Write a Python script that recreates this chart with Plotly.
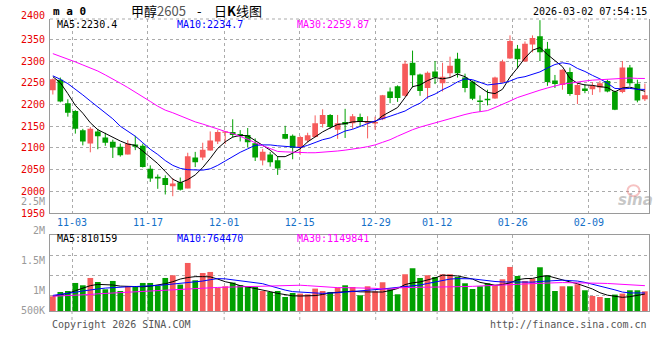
import plotly.graph_objects as go

# ---------------- data ----------------
opens = [2233, 2257, 2203, 2185, 2141, 2110, 2138, 2124, 2114, 2103,
         2085, 2108, 2105, 2052, 2034, 2031, 2012, 2021, 2007, 2078,
         2078, 2094, 2115, 2135, 2137, 2132, 2130, 2111, 2071, 2085,
         2072, 2132, 2128, 2100, 2117, 2125, 2155, 2176, 2142, 2160,
         2157, 2171, 2157, 2156, 2166, 2230, 2242, 2220, 2296, 2269,
         2238, 2276, 2249, 2272, 2305, 2262, 2253, 2209, 2213, 2214,
         2251, 2306, 2328, 2299, 2338, 2357, 2328, 2255, 2245, 2275,
         2222, 2237, 2235, 2239, 2254, 2230, 2229, 2285, 2248, 2212]
highs = [2260, 2262, 2212, 2187, 2144, 2148, 2144, 2135, 2119, 2110,
         2118, 2128, 2110, 2060, 2039, 2037, 2031, 2032, 2089, 2091,
         2112, 2138, 2141, 2139, 2166, 2141, 2146, 2122, 2098, 2091,
         2081, 2151, 2131, 2128, 2135, 2175, 2189, 2178, 2176, 2190,
         2178, 2179, 2173, 2172, 2222, 2239, 2244, 2301, 2324, 2271,
         2276, 2300, 2296, 2310, 2319, 2271, 2255, 2221, 2234, 2264,
         2303, 2359, 2337, 2345, 2359, 2394, 2344, 2268, 2281, 2285,
         2250, 2247, 2251, 2254, 2257, 2232, 2300, 2291, 2257, 2248]
lows = [2223, 2205, 2172, 2133, 2106, 2090, 2097, 2105, 2077, 2080,
        2085, 2095, 2055, 2022, 2006, 1993, 1989, 2002, 2007, 2056,
        2072, 2094, 2109, 2109, 2124, 2115, 2101, 2070, 2060, 2057,
        2038, 2120, 2074, 2084, 2112, 2124, 2147, 2144, 2121, 2123,
        2144, 2150, 2122, 2142, 2164, 2203, 2206, 2218, 2239, 2220,
        2213, 2247, 2230, 2262, 2262, 2228, 2210, 2183, 2198, 2213,
        2249, 2305, 2283, 2298, 2320, 2300, 2243, 2238, 2234, 2220,
        2201, 2226, 2222, 2228, 2228, 2187, 2226, 2243, 2205, 2208]
closes = [2258, 2207, 2181, 2144, 2115, 2144, 2127, 2112, 2101, 2083,
          2110, 2103, 2056, 2030, 2030, 2015, 2018, 2004, 2081, 2067,
          2096, 2117, 2137, 2138, 2130, 2127, 2113, 2078, 2091, 2067,
          2053, 2121, 2100, 2125, 2129, 2157, 2176, 2148, 2157, 2154,
          2173, 2161, 2161, 2160, 2221, 2215, 2215, 2294, 2267, 2231,
          2273, 2262, 2264, 2289, 2272, 2238, 2213, 2206, 2210, 2262,
          2299, 2346, 2304, 2340, 2353, 2320, 2252, 2247, 2280, 2224,
          2245, 2231, 2243, 2249, 2230, 2188, 2285, 2249, 2209, 2221]

ma5 = [2264, 2250, 2225, 2198, 2180, 2158, 2142, 2133, 2124, 2116,
       2109, 2106, 2093, 2078, 2064, 2046, 2028, 2020, 2027, 2038,
       2055, 2076, 2099, 2114, 2125, 2129, 2128, 2117, 2106, 2095,
       2080, 2080, 2088, 2098, 2114, 2126, 2137, 2146, 2154, 2156,
       2160, 2161, 2161, 2160, 2174, 2183, 2193, 2216, 2241, 2245,
       2255, 2262, 2259, 2262, 2270, 2264, 2253, 2240, 2228, 2225,
       2235, 2263, 2284, 2307, 2325, 2331, 2315, 2301, 2287, 2260,
       2249, 2245, 2244, 2241, 2239, 2229, 2238, 2240, 2235, 2230.4]
ma10 = [2266, 2258, 2248, 2236, 2222, 2208, 2195, 2181, 2167, 2150,
        2139, 2127, 2112, 2097, 2085, 2071, 2060, 2053, 2050, 2049,
        2049, 2052, 2060, 2070, 2080, 2090, 2098, 2106, 2107, 2107,
        2105, 2104, 2102, 2101, 2106, 2113, 2119, 2123, 2131, 2139,
        2143, 2150, 2156, 2162, 2167, 2173, 2179, 2185, 2195, 2203,
        2217, 2224, 2234, 2242, 2252, 2259, 2257, 2251, 2245, 2247,
        2249, 2254, 2261, 2264, 2270, 2275, 2284, 2292, 2296, 2293,
        2283, 2276, 2267, 2259, 2249, 2237, 2236, 2237, 2235, 2234.7]
ma30 = [2317, 2311, 2305, 2298, 2291, 2284, 2277, 2268, 2259, 2249,
        2239, 2229, 2218, 2207, 2196, 2187, 2181, 2174, 2167, 2160,
        2155, 2149, 2143, 2138, 2133, 2127, 2120, 2112, 2105, 2098,
        2092, 2091, 2090, 2089, 2089, 2089, 2090, 2091, 2093, 2095,
        2097, 2100, 2103, 2107, 2113, 2119, 2127, 2135, 2142, 2148,
        2153, 2157, 2162, 2167, 2172, 2177, 2181, 2184, 2186, 2193,
        2200, 2208, 2216, 2222, 2228, 2233, 2238, 2243, 2247, 2249,
        2252, 2254, 2256, 2257, 2258, 2259, 2260, 2261, 2260, 2259.87]

volumes = [668000, 864000, 909000, 1273000, 1168000, 1500000, 1318000, 986000, 1364000, 909000,
           1136000, 1123000, 1273000, 1273000, 1136000, 1500000, 1623000, 1200000, 2182000, 1395000,
           1727000, 1773000, 1045000, 1123000, 1291000, 1168000, 1136000, 1091000, 909000, 864000,
           909000, 636000, 818000, 791000, 759000, 1018000, 909000, 864000, 1064000, 1168000,
           1091000, 714000, 1123000, 895000, 1305000, 1018000, 759000, 1668000, 1941000, 1500000,
           1623000, 1545000, 1668000, 1668000, 1545000, 1259000, 1000000, 1123000, 1259000, 1168000,
           1441000, 2000000, 1591000, 1364000, 1473000, 1986000, 1623000, 909000, 1123000, 1123000,
           1214000, 941000, 682000, 636000, 591000, 745000, 791000, 941000, 941000, 895000]
vol_ma5 = [670000, 720000, 800000, 920000, 1050000, 1150000, 1210000, 1210000, 1180000, 1130000,
           1110000, 1090000, 1100000, 1130000, 1180000, 1240000, 1330000, 1450000, 1520000, 1560000,
           1560000, 1550000, 1450000, 1330000, 1260000, 1150000, 1090000, 1030000, 960000, 880000,
           800000, 740000, 690000, 680000, 680000, 700000, 750000, 820000, 850000, 880000,
           900000, 870000, 860000, 860000, 860000, 930000, 1020000, 1200000, 1280000, 1320000,
           1400000, 1500000, 1630000, 1620000, 1590000, 1520000, 1450000, 1300000, 1220000, 1170000,
           1200000, 1280000, 1420000, 1470000, 1480000, 1560000, 1600000, 1500000, 1400000, 1320000,
           1240000, 1120000, 1000000, 830000, 720000, 670000, 620000, 650000, 720000, 770000]
vol_ma10 = [710000, 750000, 790000, 850000, 910000, 970000, 1000000, 1040000, 1070000, 1090000,
            1100000, 1110000, 1120000, 1140000, 1160000, 1190000, 1220000, 1250000, 1280000, 1310000,
            1360000, 1420000, 1470000, 1460000, 1420000, 1390000, 1350000, 1300000, 1240000, 1140000,
            1030000, 950000, 880000, 850000, 830000, 820000, 800000, 800000, 830000, 860000,
            880000, 910000, 940000, 970000, 1000000, 1040000, 1080000, 1110000, 1130000, 1180000,
            1250000, 1310000, 1380000, 1450000, 1470000, 1470000, 1460000, 1420000, 1370000, 1340000,
            1320000, 1320000, 1310000, 1290000, 1310000, 1340000, 1370000, 1390000, 1400000, 1380000,
            1360000, 1300000, 1220000, 1120000, 1040000, 960000, 860000, 820000, 820000, 820000]
vol_ma30 = [670000, 680000, 700000, 710000, 730000, 750000, 780000, 800000, 820000, 840000,
            860000, 880000, 900000, 920000, 940000, 960000, 980000, 1000000, 1020000, 1040000,
            1050000, 1060000, 1070000, 1080000, 1090000, 1100000, 1110000, 1120000, 1130000, 1140000,
            1150000, 1160000, 1170000, 1170000, 1150000, 1130000, 1100000, 1060000, 1060000, 1060000,
            1060000, 1060000, 1050000, 1030000, 1000000, 990000, 1050000, 1070000, 1080000, 1080000,
            1080000, 1080000, 1090000, 1090000, 1100000, 1110000, 1120000, 1130000, 1150000, 1160000,
            1180000, 1200000, 1210000, 1230000, 1250000, 1270000, 1280000, 1280000, 1290000, 1290000,
            1290000, 1280000, 1270000, 1260000, 1250000, 1230000, 1210000, 1190000, 1170000, 1150000]

tick_labels = ["11-03", "11-17", "12-01", "12-15", "12-29", "01-12", "01-26", "02-09"]
price_ticks = [1950, 2000, 2050, 2100, 2150, 2200, 2250, 2300, 2350]
vol_axis_labels = ["2.5M", "2M", "1.5M", "1M", "500K"]
header_ma = ["MA5:2230.4", "MA10:2234.7", "MA30:2259.87"]
header_vol_ma = ["MA5:810159", "MA10:764470", "MA30:1149841"]

# ---------------- styling / layout ----------------
PL, PR, PT, PB = 50, 649.5, 19, 310.7


def fx(x):
    return (x - PL) / (PR - PL)


def fy(y):
    return (PB - y) / (PB - PT)


RED = "#f65b5b"
GREEN = "#00a000"
GRID = "#ababab"
FRAME = "#9a9a9a"
MONO = "DejaVu Sans Mono"
LBL_RED = "#e80000"
LBL_BLUE = "#1470c8"
MA_COLORS = ["#000000", "#0000ff", "#ff00ff"]

tick_pos = [2.56, 12.69, 22.86, 32.95, 43.08, 51.28, 61.36, 71.53]
XR = [-0.38, 79.55]

n = len(closes)
xs = list(range(n))
colors = [RED if c >= o else GREEN for o, c in zip(opens, closes)]

fig = go.Figure()

# wicks
for col in (RED, GREEN):
    wx, wy = [], []
    for i in range(n):
        if colors[i] == col:
            wx += [i, i, None]
            wy += [lows[i], highs[i], None]
    fig.add_trace(go.Scatter(x=wx, y=wy, mode="lines", line=dict(color=col, width=1),
                             xaxis="x", yaxis="y", hoverinfo="skip"))

# bodies
fig.add_trace(go.Bar(x=xs, y=[max(abs(c - o), 2.4) for o, c in zip(opens, closes)],
                     base=[min(o, c) for o, c in zip(opens, closes)], width=0.76,
                     marker=dict(color=colors, line=dict(width=0)), xaxis="x", yaxis="y"))

for arr, col in zip([ma5, ma10, ma30], MA_COLORS):
    fig.add_trace(go.Scatter(x=xs, y=arr, mode="lines", line=dict(color=col, width=1),
                             xaxis="x", yaxis="y"))

# volume
fig.add_trace(go.Bar(x=xs, y=volumes, width=0.76, marker=dict(color=colors, line=dict(width=0)),
                     xaxis="x2", yaxis="y2"))
for arr, col in zip([vol_ma5, vol_ma10, vol_ma30], MA_COLORS):
    fig.add_trace(go.Scatter(x=xs, y=arr, mode="lines", line=dict(color=col, width=1),
                             xaxis="x2", yaxis="y2"))

VOL_TOP = (PB - 234.3) / 22 * 1e6
vol_grid = [(PB - y) / 22 * 1e6 for y in (295.7, 275.7, 255.7)]

fig.update_layout(
    width=660, height=360, autosize=False,
    margin=dict(l=PL, r=660 - PR, t=PT, b=360 - PB, pad=0),
    paper_bgcolor="white", plot_bgcolor="white",
    showlegend=False, hovermode=False, barmode="overlay",
    xaxis=dict(domain=[0, 1], range=XR, anchor="y", tickmode="array", tickvals=tick_pos,
               ticktext=tick_labels, tickfont=dict(family=MONO, size=10, color=LBL_BLUE),
               ticks="", showgrid=True, gridcolor=GRID, griddash="dot", gridwidth=1,
               showline=True, linecolor=FRAME, linewidth=1, zeroline=False),
    yaxis=dict(domain=[fy(213), 1], range=[1949.9, 2396.7], anchor="x", tickmode="array",
               tickvals=price_ticks, tickfont=dict(family=MONO, size=10, color=LBL_RED),
               ticks="", ticklabelstandoff=2, showgrid=True, gridcolor=GRID, griddash="dot",
               showline=True, mirror=True, linecolor=FRAME, linewidth=1, zeroline=False),
    xaxis2=dict(domain=[0, 1], range=XR, anchor="y2", tickmode="array", tickvals=tick_pos,
                showticklabels=False, ticks="", showgrid=True, gridcolor=GRID, griddash="dot",
                showline=True, mirror=True, linecolor=FRAME, linewidth=1, zeroline=False),
    yaxis2=dict(domain=[0, fy(234.3)], range=[0, VOL_TOP], anchor="x2", tickmode="array",
                tickvals=vol_grid, showticklabels=False, ticks="", showgrid=True, gridcolor=GRID,
                griddash="dot", showline=True, mirror=True, linecolor=FRAME, linewidth=1,
                zeroline=False),
)

shapes = [
    dict(type="line", xref="paper", yref="paper", x0=0, x1=1, y0=1, y1=1,
         line=dict(color=GRID, width=1, dash="dot")),
]
for t in tick_pos:
    shapes.append(dict(type="line", xref="x2", yref="paper", x0=t, x1=t, y0=0, y1=fy(321),
                       line=dict(color=GRID, width=1, dash="dot")))
shapes.append(dict(type="circle", xref="paper", yref="paper", x0=fx(628), x1=fx(640),
                   y0=fy(196), y1=fy(185), line=dict(color="rgba(235,120,120,0.45)", width=2)))
fig.update_layout(shapes=shapes)

ann = []


def add(text, x, y, xanchor="left", color="#000", size=10, family=MONO, **kw):
    ann.append(dict(text=text, x=fx(x), y=fy(y), xref="paper", yref="paper",
                    xanchor=xanchor, yanchor="middle", showarrow=False,
                    font=dict(family=family, size=size, color=color), **kw))


add("<b>m a 0</b>", 51, 12, size=11)
CJK = "Noto Sans CJK SC"
add("甲醇<span style='color:#555'>2605</span>", 188, 11, xanchor="right", size=13, family=CJK)
add("-", 200, 11, xanchor="center", size=13, family=CJK)
add("日<b>K</b>线图", 212, 11, xanchor="left", size=13, family=CJK)
add("2026-03-02 07:54:15", 650, 12, xanchor="right")
for txt, x, col in zip(header_ma, [55, 175, 295], MA_COLORS):
    add(txt, x, 24.5, color=col)
for txt, x, col in zip(header_vol_ma, [55, 175, 295], MA_COLORS):
    add(txt, x, 238.5, color=col)
add("2400", 47, 15.5, xanchor="right", color=LBL_RED)
for txt, y in zip(vol_axis_labels, [201, 230.3, 260.3, 290.7, 310.5]):
    add(txt, 47, y, xanchor="right", color="#9a9a9a")
add("Copyright 2026 SINA.COM", 50, 324.5, color="#555")
add("http://finance.sina.com.cn", 650, 324.5, xanchor="right", color="#555")
add("<b><i>sina</i></b>", 636, 200, xanchor="center", color="rgba(150,150,150,0.55)", size=15,
    family="DejaVu Sans")
fig.update_layout(annotations=ann)

fig.write_html("out.html", include_plotlyjs=True,
               config={"displayModeBar": False, "staticPlot": True},
               post_script="document.body.style.margin='0px';")
